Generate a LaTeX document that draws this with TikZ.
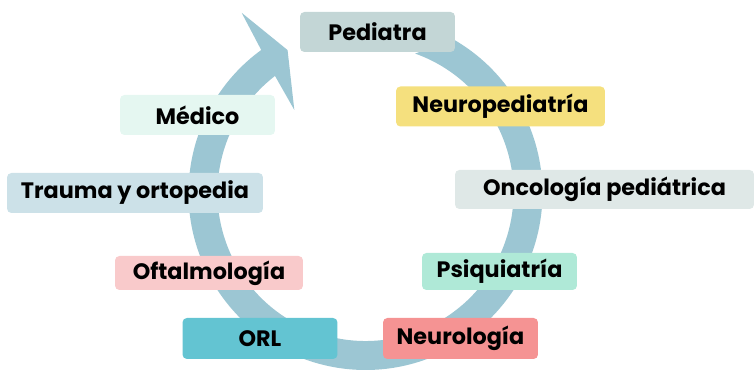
\documentclass[tikz,border=0pt]{standalone}
\usepackage{fontspec}
\setmainfont{Poppins}
\usepackage{tikz}

\definecolor{ringblue}{HTML}{9CC6D3}
\definecolor{cPed}{HTML}{C3D6D6}
\definecolor{cMed}{HTML}{E5F7F1}
\definecolor{cNped}{HTML}{F5E07E}
\definecolor{cTra}{HTML}{CCE1E8}
\definecolor{cOnc}{HTML}{DFE8E7}
\definecolor{cOft}{HTML}{F9CACB}
\definecolor{cPsi}{HTML}{AFE9D7}
\definecolor{cOrl}{HTML}{63C4D2}
\definecolor{cNeu}{HTML}{F59393}

\begin{document}
\begin{tikzpicture}[x=0.02cm,y=0.02cm,
    spec/.style={rounded corners=2.5pt, minimum height=0.8cm, inner sep=0pt,
                 font=\fontsize{12.7}{15}\selectfont\bfseries, text=black}]
    \useasboundingbox (0,0) rectangle (754,371);

    \def\rin{148}   % inner radius of the ring
    \def\rout{177}  % outer radius of the ring
    \coordinate (c) at (365.5,178);

    % circular arrow, tail under Pediatra, head on the upper left
    \fill[ringblue,shift={(c)}]
        (70.4:\rin) arc[start angle=70.4,end angle=-232.3,radius=\rin]
        -- (130.6:109.4) -- (118.6:162.8) -- (124.5:218.7) -- (126.1:\rout)
        arc[start angle=126.1,end angle=420,radius=\rout] -- cycle;

    \node[spec,fill=cPed,minimum width=3.1cm] (ped) at (377.5,339) {Pediatra};
    \node[spec,fill=cMed,minimum width=3.1cm] (med) at (197.5,256) {Médico};
    \node[spec,fill=cNped,minimum width=4.18cm] (nped) at (500.5,264.5) {Neuropediatría};
    \node[spec,fill=cTra,minimum width=5.12cm] (tra) at (135,178) {Trauma y ortopedia};
    \node[spec,fill=cOnc,minimum width=5.98cm,minimum height=0.78cm] (onc) at (604.5,181.5) {Oncología pediátrica};
    \node[spec,fill=cOft,minimum width=3.76cm,minimum height=0.68cm] (oft) at (209,98) {Oftalmología};
    \node[spec,fill=cPsi,minimum width=3.1cm,minimum height=0.74cm] (psi) at (499.5,99.5) {Psiquiatría};
    \node[spec,fill=cOrl,minimum width=3.1cm,minimum height=0.82cm] (orl) at (260,32.5) {ORL};
    \node[spec,fill=cNeu,minimum width=3.1cm,minimum height=0.82cm] (neu) at (460.5,32.5) {Neurología};
\end{tikzpicture}
\end{document}
